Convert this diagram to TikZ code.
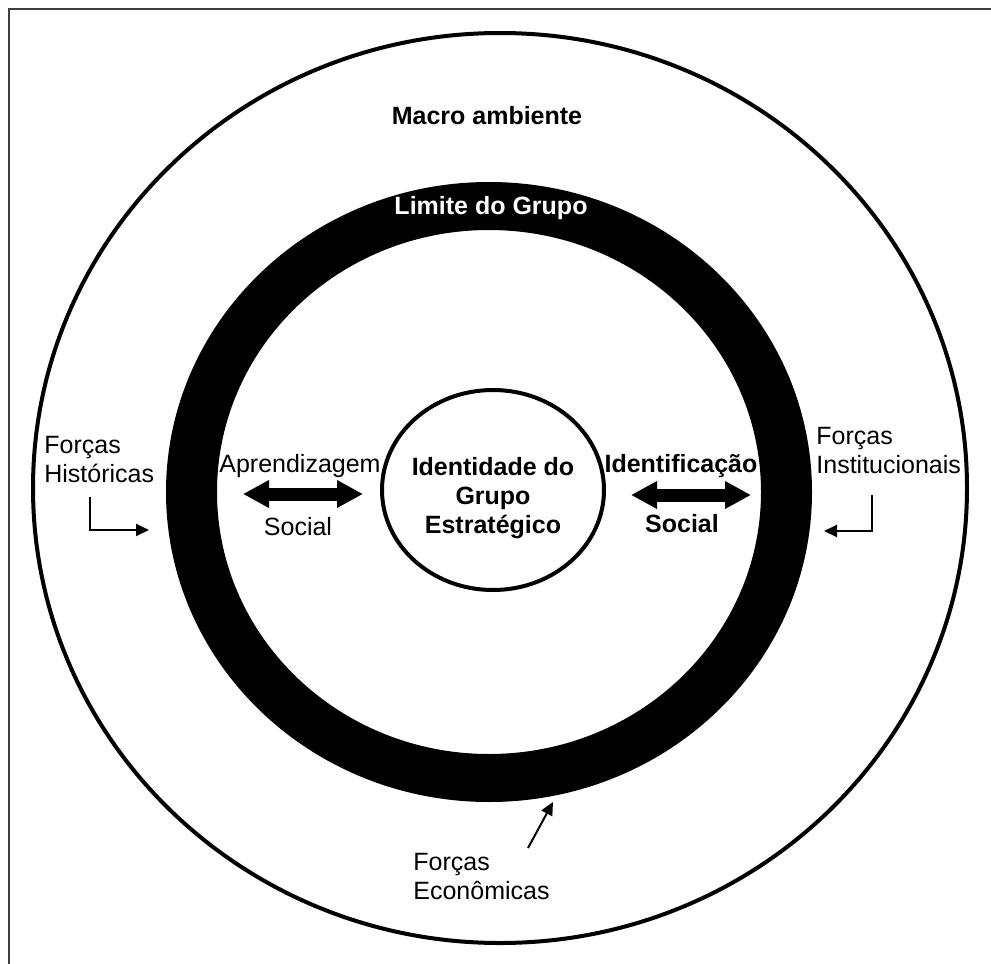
\documentclass[tikz,border=0pt]{standalone}
\usepackage{fontspec}
\setmainfont{Liberation Sans}
\usetikzlibrary{arrows.meta,shapes.geometric}

\begin{document}
\begin{tikzpicture}[
    x=0.5pt, y=-0.5pt,
    lbl/.style={inner sep=0pt, font=\fontsize{12.5}{14.5}\selectfont, align=left},
    lblbold/.style={inner sep=0pt, font=\fontsize{12.5}{14.5}\selectfont\bfseries, align=center},
    ring/.style={draw, line width=2pt},
    force/.style={-{Triangle[length=6.5pt,width=6pt]}, line width=1pt},
    exchange/.style={{Triangle[length=13pt,width=13pt]}-{Triangle[length=13pt,width=13pt]}, line width=6.5pt}
]
\useasboundingbox (0,0) rectangle (991,964);

% Frame
\draw[line width=1pt, black!75] (8.5,964) -- (8.5,9) -- (991,9);

% Macro environment, group limit and core
\draw[ring] (500,488) ellipse [x radius=233.5pt, y radius=227.5pt];
\fill[even odd rule] (489,492) ellipse [x radius=161.5pt, y radius=155pt]
                     (489,492) ellipse [x radius=136pt, y radius=131pt];
\node[ring, ellipse, minimum width=111pt, minimum height=100pt, inner sep=0pt] (core) at (493,490) {};

% Labels
\node[lblbold] (macro) at (487,116) {Macro ambiente};
\node[lblbold, text=white] (limite) at (491,208) {Limite do Grupo};
\node[lblbold] (coretext) at (493,498) {Identidade do\\Grupo\\Estratégico};
\node[lbl] (aprend) at (300,466) {Aprendizagem};
\node[lbl] (socA) at (298,527) {Social};
\node[lblbold] (ident) at (681,466) {Identificação};
\node[lblbold] (socB) at (682,524) {Social};
\node[lbl, anchor=west] (hist) at (44,460) {Forças\\Históricas};
\node[lbl, anchor=west] (inst) at (816,451) {Forças\\Institucionais};
\node[lbl, anchor=west] (econ) at (413,877) {Forças\\Econômicas};

% Exchange arrows
\coordinate (apL) at (243,494);
\coordinate (apR) at (363,494);
\coordinate (idL) at (631,495);
\coordinate (idR) at (751,495);
\draw[exchange] (apL) -- (apR);
\draw[exchange] (idL) -- (idR);

% Forces
\coordinate (histA) at (90,497);
\coordinate (histB) at (149,530);
\coordinate (instA) at (872,495);
\coordinate (instB) at (824,531);
\coordinate (econA) at (528,848);
\coordinate (econB) at (553,802);
\draw[force] (histA) |- (histB);
\draw[force] (instA) |- (instB);
\draw[force] (econA) -- (econB);

\end{tikzpicture}
\end{document}
